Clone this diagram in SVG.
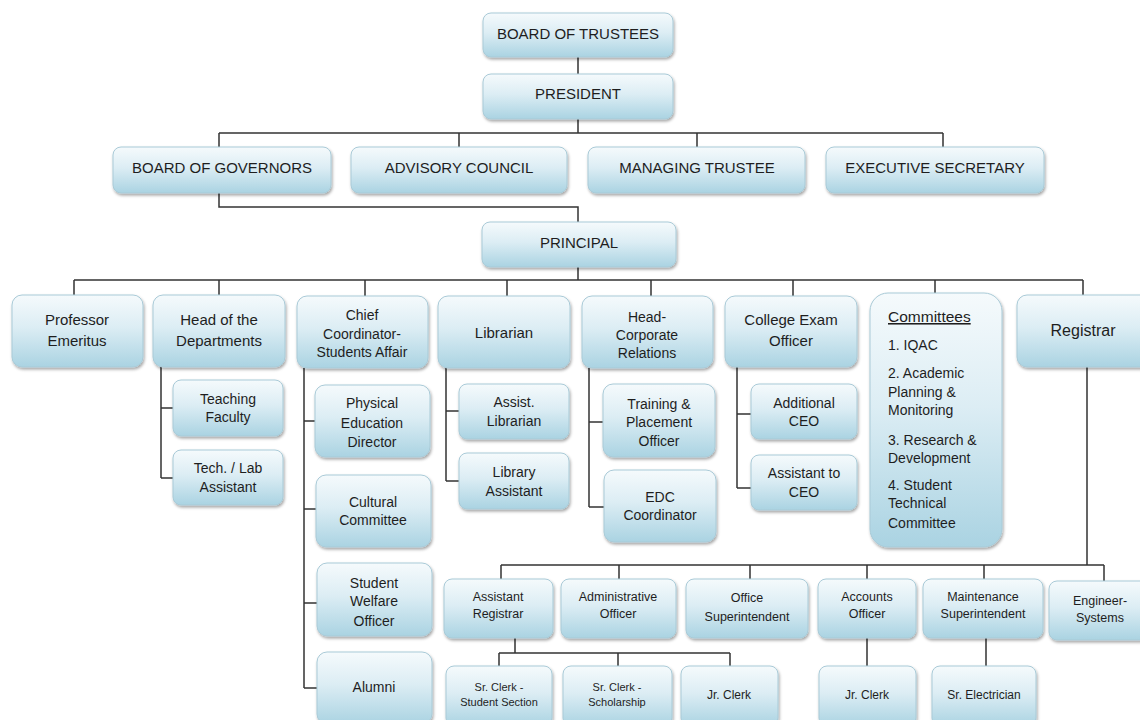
<svg xmlns="http://www.w3.org/2000/svg" width="1140" height="720" viewBox="0 0 1140 720">
<defs>
<linearGradient id="g" x1="0" y1="0" x2="0" y2="1">
<stop offset="0" stop-color="#f5fafc"/>
<stop offset="0.45" stop-color="#dcedf4"/>
<stop offset="1" stop-color="#aad3e2"/>
</linearGradient>
<filter id="sh" x="-10%" y="-10%" width="125%" height="130%">
<feDropShadow dx="1" dy="2" stdDeviation="1.4" flood-color="#000" flood-opacity="0.35"/>
</filter>
</defs>
<style>
rect.b{fill:url(#g);stroke:#a9cad7;stroke-width:1;filter:url(#sh)}
text{font-family:"Liberation Sans",Arial,sans-serif;fill:#1e1e1e;text-anchor:middle}
.t1{font-size:15px}
.t2{font-size:14px}
.t3{font-size:12.5px}
.t4{font-size:11px}
.t5{font-size:12px}
.cm{font-size:14px;text-anchor:start}
#connectors path{fill:none;stroke:#333;stroke-width:1.5}
</style>
<rect width="1140" height="720" fill="#fff"/>
<g id="connectors">
<path d="M578,57V74M578,119V133M219,133H943M219,133V147M459,133V147M697,133V147M943,133V147"/>
<path d="M219,193V207H578V222M578,267V280M74,280H1083M74,280V295M219,280V295M365,280V296M507,280V296M651,280V296M793,280V296M935,280V293M1083,280V295"/>
<path d="M161,367V478M161,408H173M161,478H173"/>
<path d="M304,368V688M304,421H315M304,509H316M304,603H317M304,688H317"/>
<path d="M446,368V481M446,411H459M446,481H459"/>
<path d="M589,368V507M589,422H603M589,507H604"/>
<path d="M737,367V488M737,414H751M737,488H751"/>
<path d="M1087,367V565M501,565H1104M501,565V579M619,565V579M750,565V579M867,565V579M984,565V579M1104,565V582"/>
<path d="M515,638V653M499,653H730M499,653V666M618,653V666M730,653V666M867,638V666M986,638V666"/>
</g>
<g id="n-bot"><rect class="b" x="483" y="13" width="190" height="44" rx="8"/><text class="t1" x="578" y="39">BOARD OF TRUSTEES</text></g>
<g id="n-president"><rect class="b" x="483" y="74" width="190" height="45" rx="8"/><text class="t1" x="578" y="99">PRESIDENT</text></g>
<g id="n-bog"><rect class="b" x="113" y="147" width="218" height="46" rx="8"/><text class="t1" x="222" y="173">BOARD OF GOVERNORS</text></g>
<g id="n-advisory"><rect class="b" x="351" y="147" width="216" height="46" rx="8"/><text class="t1" x="459" y="173">ADVISORY COUNCIL</text></g>
<g id="n-managing"><rect class="b" x="588" y="147" width="217" height="46" rx="8"/><text class="t1" x="697" y="173">MANAGING TRUSTEE</text></g>
<g id="n-exec"><rect class="b" x="826" y="147" width="218" height="46" rx="8"/><text class="t1" x="935" y="173">EXECUTIVE SECRETARY</text></g>
<g id="n-principal"><rect class="b" x="482" y="222" width="194" height="45" rx="8"/><text class="t1" x="579" y="248">PRINCIPAL</text></g>
<g id="n-prof"><rect class="b" x="12" y="295" width="131" height="72" rx="10"/><text class="t1" x="77" y="325">Professor</text><text class="t1" x="77" y="346">Emeritus</text></g>
<g id="n-hod"><rect class="b" x="153" y="295" width="132" height="72" rx="10"/><text class="t1" x="219" y="325">Head of the</text><text class="t1" x="219" y="346">Departments</text></g>
<g id="n-chief"><rect class="b" x="297" y="296" width="131" height="72" rx="10"/><text class="t2" x="362" y="320">Chief</text><text class="t2" x="362" y="339">Coordinator-</text><text class="t2" x="362" y="357">Students Affair</text></g>
<g id="n-librarian"><rect class="b" x="438" y="296" width="132" height="72" rx="10"/><text class="t1" x="504" y="338">Librarian</text></g>
<g id="n-headcorp"><rect class="b" x="582" y="296" width="131" height="72" rx="10"/><text class="t2" x="647" y="322">Head-</text><text class="t2" x="647" y="340">Corporate</text><text class="t2" x="647" y="358">Relations</text></g>
<g id="n-college"><rect class="b" x="725" y="296" width="132" height="71" rx="10"/><text class="t1" x="791" y="325">College Exam</text><text class="t1" x="791" y="346">Officer</text></g>
<g id="n-committees"><rect class="b" x="870" y="293" width="132" height="254" rx="18"/>
<text class="cm" x="888" y="322" style="font-size:15.5px;text-decoration:underline">Committees</text>
<text class="cm" x="888" y="350">1. IQAC</text>
<text class="cm" x="888" y="378">2. Academic</text>
<text class="cm" x="888" y="397">Planning &amp;</text>
<text class="cm" x="888" y="415">Monitoring</text>
<text class="cm" x="888" y="445">3. Research &amp;</text>
<text class="cm" x="888" y="463">Development</text>
<text class="cm" x="888" y="490">4. Student</text>
<text class="cm" x="888" y="508">Technical</text>
<text class="cm" x="888" y="528">Committee</text></g>
<g id="n-registrar"><rect class="b" x="1017" y="295" width="135" height="72" rx="10"/><text class="t1" x="1083" y="336" style="font-size:16px">Registrar</text></g>
<g id="n-teaching"><rect class="b" x="173" y="380" width="110" height="56" rx="8"/><text class="t2" x="228" y="404">Teaching</text><text class="t2" x="228" y="422">Faculty</text></g>
<g id="n-techlab"><rect class="b" x="173" y="450" width="110" height="55" rx="8"/><text class="t2" x="228" y="473">Tech. / Lab</text><text class="t2" x="228" y="492">Assistant</text></g>
<g id="n-physed"><rect class="b" x="315" y="385" width="115" height="72" rx="10"/><text class="t2" x="372" y="408">Physical</text><text class="t2" x="372" y="428">Education</text><text class="t2" x="372" y="447">Director</text></g>
<g id="n-cultural"><rect class="b" x="316" y="475" width="115" height="72" rx="10"/><text class="t2" x="373" y="507">Cultural</text><text class="t2" x="373" y="525">Committee</text></g>
<g id="n-welfare"><rect class="b" x="317" y="563" width="115" height="73" rx="10"/><text class="t2" x="374" y="588">Student</text><text class="t2" x="374" y="606">Welfare</text><text class="t2" x="374" y="626">Officer</text></g>
<g id="n-alumni"><rect class="b" x="317" y="652" width="115" height="72" rx="10"/><text class="t2" x="374" y="692">Alumni</text></g>
<g id="n-asstlib"><rect class="b" x="459" y="384" width="110" height="55" rx="8"/><text class="t2" x="514" y="407">Assist.</text><text class="t2" x="514" y="426">Librarian</text></g>
<g id="n-libasst"><rect class="b" x="459" y="453" width="110" height="56" rx="8"/><text class="t2" x="514" y="477">Library</text><text class="t2" x="514" y="496">Assistant</text></g>
<g id="n-training"><rect class="b" x="603" y="384" width="112" height="73" rx="10"/><text class="t2" x="659" y="409">Training &amp;</text><text class="t2" x="659" y="427">Placement</text><text class="t2" x="659" y="446">Officer</text></g>
<g id="n-edc"><rect class="b" x="604" y="470" width="112" height="72" rx="10"/><text class="t2" x="660" y="502">EDC</text><text class="t2" x="660" y="520">Coordinator</text></g>
<g id="n-addceo"><rect class="b" x="751" y="384" width="106" height="55" rx="8"/><text class="t2" x="804" y="408">Additional</text><text class="t2" x="804" y="426">CEO</text></g>
<g id="n-asstceo"><rect class="b" x="751" y="455" width="106" height="55" rx="8"/><text class="t2" x="804" y="478">Assistant to</text><text class="t2" x="804" y="497">CEO</text></g>
<g id="n-asstreg"><rect class="b" x="444" y="579" width="109" height="59" rx="8"/><text class="t3" x="498" y="601">Assistant</text><text class="t3" x="498" y="618">Registrar</text></g>
<g id="n-admin"><rect class="b" x="561" y="579" width="115" height="59" rx="8"/><text class="t3" x="618" y="601">Administrative</text><text class="t3" x="618" y="618">Officer</text></g>
<g id="n-officesupt"><rect class="b" x="686" y="579" width="122" height="59" rx="8"/><text class="t3" x="747" y="602">Office</text><text class="t3" x="747" y="621">Superintendent</text></g>
<g id="n-accounts"><rect class="b" x="818" y="579" width="98" height="59" rx="8"/><text class="t3" x="867" y="601">Accounts</text><text class="t3" x="867" y="618">Officer</text></g>
<g id="n-maint"><rect class="b" x="923" y="579" width="120" height="59" rx="8"/><text class="t3" x="983" y="601">Maintenance</text><text class="t3" x="983" y="618">Superintendent</text></g>
<g id="n-engineer"><rect class="b" x="1049" y="581" width="100" height="59" rx="8"/><text class="t3" x="1100" y="605">Engineer-</text><text class="t3" x="1100" y="622">Systems</text></g>
<g id="n-srclerk1"><rect class="b" x="446" y="666" width="106" height="60" rx="8"/><text class="t4" x="499" y="691">Sr. Clerk -</text><text class="t4" x="499" y="706">Student Section</text></g>
<g id="n-srclerk2"><rect class="b" x="563" y="666" width="109" height="60" rx="8"/><text class="t4" x="617" y="691">Sr. Clerk -</text><text class="t4" x="617" y="706">Scholarship</text></g>
<g id="n-jrclerk1"><rect class="b" x="681" y="666" width="97" height="60" rx="8"/><text class="t5" x="729" y="699">Jr. Clerk</text></g>
<g id="n-jrclerk2"><rect class="b" x="819" y="666" width="97" height="60" rx="8"/><text class="t5" x="867" y="699">Jr. Clerk</text></g>
<g id="n-srelec"><rect class="b" x="932" y="666" width="104" height="60" rx="8"/><text class="t5" x="984" y="699">Sr. Electrician</text></g>
</svg>
